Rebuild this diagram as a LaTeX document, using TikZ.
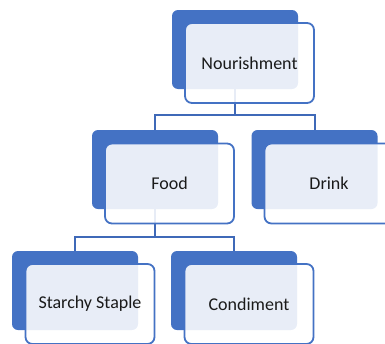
\documentclass[tikz,border=0pt]{standalone}
\usepackage{fontspec}
\setmainfont{Carlito}
\definecolor{accent}{HTML}{4472C4}
\definecolor{connc}{HTML}{3F69B8}
\definecolor{txt}{HTML}{1A1A1A}
\tikzset{
  backbox/.style={fill=accent, rounded corners=6pt, minimum width=126pt, minimum height=79pt, inner sep=0pt},
  frontbox/.style={draw=accent, line width=1.8pt, fill=white, fill opacity=0.88, text opacity=1, draw opacity=1,
    rounded corners=7pt, minimum width=129pt, minimum height=80pt, inner sep=0pt,
    font=\fontsize{18}{20}\selectfont, text=txt},
  conn/.style={draw=connc, line width=2pt}
}
\begin{document}
\begin{tikzpicture}[x=1pt,y=-1pt]
\useasboundingbox (0,0) rectangle (385,343);
\clip (0,0) rectangle (385,343);
% back boxes
\node[backbox] (nB) at (235,49.5) {};
\node[backbox] (foB) at (155,169.5) {};
\node[backbox] (drB) at (314.5,169.5) {};
\node[backbox] (stB) at (75,290.5) {};
\node[backbox] (coB) at (234,290.5) {};
% connectors
\draw[conn] (nB.south) -- ++(0,26) -| (foB.north);
\draw[conn] (nB.south) -- ++(0,26) -| (drB.north);
\draw[conn] (foB.south) -- ++(0,28) -| (stB.north);
\draw[conn] (foB.south) -- ++(0,28) -| (coB.north);
% front boxes
\node[frontbox] (nF) at (249.5,63) {Nourishment};
\node[frontbox] (foF) at (169.5,183.5) {Food};
\node[frontbox] (drF) at (329,183.5) {Drink};
\node[frontbox] (stF) at (90,304) {Starchy Staple};
\node[frontbox] (coF) at (249,304) {Condiment};
\end{tikzpicture}
\end{document}
